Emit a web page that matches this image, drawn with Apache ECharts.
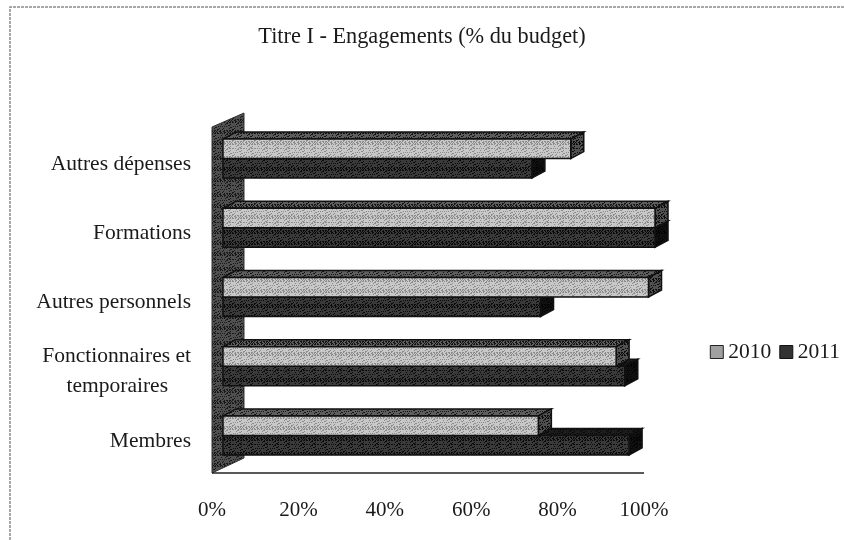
<!DOCTYPE html>
<html>
<head>
  <meta charset="UTF-8">
  <title>Titre I - Engagements</title>
  <script src="https://cdn.jsdelivr.net/npm/echarts@6/dist/echarts.min.js"></script>
  <style type="text/css">
  html, body { margin: 0; padding: 0; background: #fff; }
  #chart { width: 844px; height: 540px; }
  </style>
</head>
<body>
  <div id="chart"></div>
  <script>
    var categories = ['Membres', 'Fonctionnaires et\ntemporaires', 'Autres personnels', 'Formations', 'Autres dépenses'];
    var values2010 = [73, 91, 98.5, 100, 80.5];
    var values2011 = [94, 93, 73.5, 100, 71.5];
    var xTicks = [0, 20, 40, 60, 80, 100];

    // halftone look of the scan, a fixed dither tile
    function tile(base, dots) {
      var c = document.createElement('canvas');
      c.width = 37; c.height = 37;
      var g = c.getContext('2d');
      g.fillStyle = base;
      g.fillRect(0, 0, 37, 37);
      g.fillStyle = dots;
      for (var y = 0; y < 37; y++) {
        for (var x = 0; x < 37; x++) {
          if ((x * x * 3 + y * y * 7 + x * y * 5 + x) % 11 < 4) g.fillRect(x, y, 1, 1);
        }
      }
      return c;
    }
    function pattern(base, dots) {
      return {image: tile(base, dots), repeat: 'repeat'};
    }

    var light = pattern('#c8c8c8', '#8c8c8c');
    var lightTop = pattern('#5e5e5e', '#141414');
    var lightSide = pattern('#505050', '#0c0c0c');
    var dark = pattern('#3a3a3a', '#0a0a0a');
    var darkTop = pattern('#1c1c1c', '#060606');
    var darkSide = pattern('#101010', '#020202');
    var wallFill = pattern('#505050', '#181818');

    var depthX = 13, depthY = -7;     // bar depth
    var shiftX = 11, shiftY = -3;     // bars stand a bit behind the front plane
    var barH = 19.5;

    function poly(points, fill) {
      return {type: 'polygon', shape: {points: points},
        style: {fill: fill, stroke: '#111', lineWidth: 1.5}};
    }

    function barRenderer(offset, front, top, side) {
      return function (params, api) {
        var zero = api.coord([0, api.value(1)]);
        var end = api.coord([api.value(0), api.value(1)]);
        var x0 = zero[0] + shiftX, x1 = end[0] + shiftX;
        var y0 = end[1] + shiftY + offset * barH, y1 = y0 + barH;
        return {type: 'group', children: [
          poly([[x0, y0], [x0 + depthX, y0 + depthY], [x1 + depthX, y0 + depthY], [x1, y0]], top),
          poly([[x1, y0], [x1 + depthX, y0 + depthY], [x1 + depthX, y1 + depthY], [x1, y1]], side),
          poly([[x0, y0], [x1, y0], [x1, y1], [x0, y1]], front)
        ]};
      };
    }

    function wallRenderer(params, api) {
      var top = api.coord([0, 4]);
      var bandH = api.size([0, 1])[1];
      var x = top[0];
      var yT = top[1] - bandH / 2, yB = yT + bandH * 5;
      var right = api.coord([100, 0])[0];
      return {type: 'group', children: [
        {type: 'polygon', shape: {points: [[x, yT], [x + 32, yT - 14], [x + 32, yB - 15], [x, yB]]},
          style: {fill: wallFill, stroke: '#333', lineWidth: 1}},
        {type: 'line', shape: {x1: x, y1: yB, x2: right, y2: yB},
          style: {stroke: '#222', lineWidth: 1.5}}
      ]};
    }

    var chart = echarts.init(document.getElementById('chart'), null, {renderer: 'canvas'});
    chart.setOption({
      animation: false,
      backgroundColor: '#ffffff',
      textStyle: {fontFamily: 'Liberation Serif', color: '#1a1a1a'},
      title: {
        text: 'Titre I - Engagements (% du budget)', left: 417, top: 21, textAlign: 'center',
        textStyle: {fontFamily: 'Liberation Serif', fontSize: 22.3, fontWeight: 'normal', color: '#1a1a1a'}
      },
      graphic: [
        // frame of the scanned page
        {type: 'polyline', silent: true, shape: {points: [[844, 7], [10, 7], [10, 540]]},
          style: {fill: null, stroke: '#8c8c8c', lineWidth: 1.5, lineDash: [3, 1]}}
      ],
      legend: {
        right: -1, top: 336, itemWidth: 13, itemHeight: 13, itemGap: 8, icon: 'rect',
        textStyle: {fontFamily: 'Liberation Serif', fontSize: 21.5, color: '#1a1a1a', padding: [0, 0, 0, 0]},
        data: [
          {name: '2010', itemStyle: {color: '#a0a0a0', borderColor: '#222', borderWidth: 1}},
          {name: '2011', itemStyle: {color: '#333333', borderColor: '#111', borderWidth: 1}}
        ]
      },
      grid: {left: 212, top: 127, width: 432, height: 346},
      xAxis: {
        type: 'value', min: 0, max: 100, interval: 20,
        axisLine: {show: false}, axisTick: {show: false}, splitLine: {show: false},
        axisLabel: {
          margin: 27, fontFamily: 'Liberation Serif', fontSize: 21, color: '#1a1a1a',
          formatter: function (v) { return xTicks.indexOf(v) >= 0 ? v + '%' : ''; }
        }
      },
      yAxis: {
        type: 'category', data: categories,
        axisLine: {show: false}, axisTick: {show: false},
        axisLabel: {
          margin: 21, fontFamily: 'Liberation Serif', fontSize: 21.5, color: '#1a1a1a', lineHeight: 30,
          padding: [5, 0, 0, 0],
          formatter: function (v) {
            var parts = v.split('\n');
            return parts.length > 1 ? parts[0] + '\n' + parts[1] + '{pad|}' : v;
          },
          rich: {pad: {width: 23}}
        }
      },
      series: [
        {type: 'custom', name: 'mur', silent: true, clip: false, z: 1, renderItem: wallRenderer, data: [[0, 0]], encode: {x: 0, y: 1}},
        {type: 'custom', name: '2011', silent: true, clip: false, z: 2,
          itemStyle: {color: '#333333'},
          renderItem: barRenderer(0, dark, darkTop, darkSide),
          data: values2011.map(function (v, i) { return [v, i]; }), encode: {x: 0, y: 1}},
        {type: 'custom', name: '2010', silent: true, clip: false, z: 3,
          itemStyle: {color: '#a0a0a0'},
          renderItem: barRenderer(-1, light, lightTop, lightSide),
          data: values2010.map(function (v, i) { return [v, i]; }), encode: {x: 0, y: 1}}
      ]
    });
  </script>
</body>
</html>
